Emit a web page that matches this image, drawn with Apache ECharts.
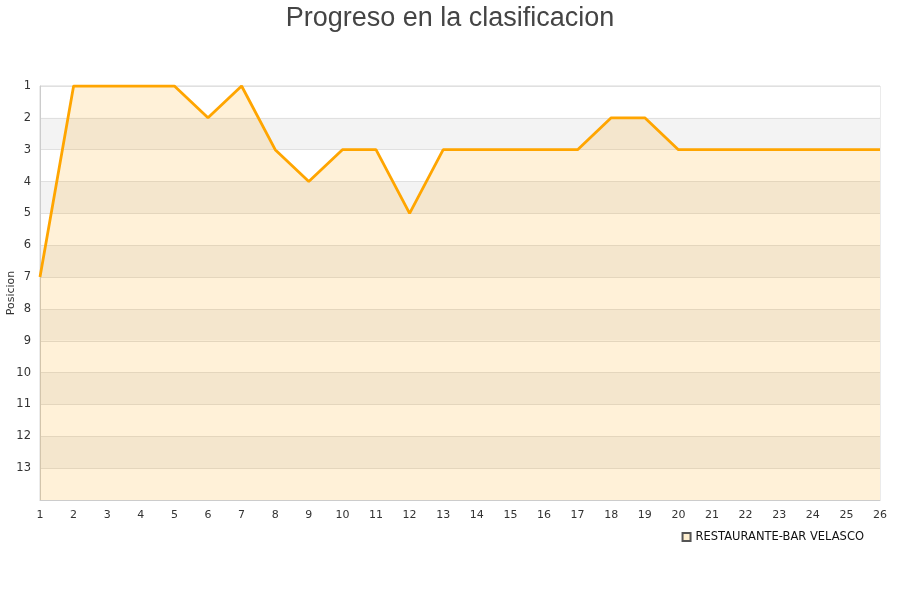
<!DOCTYPE html>
<html>
<head>
<meta charset="utf-8">
<script src="https://cdn.jsdelivr.net/npm/echarts@6/dist/echarts.min.js"></script>
<style>html,body{margin:0;padding:0;background:#fff}#c{width:900px;height:600px}</style>
</head>
<body>
<div id="c"></div>
<script>
var title = 'Progreso en la clasificacion';
var seriesName = 'RESTAURANTE-BAR VELASCO';
var jornadas = ['1','2','3','4','5','6','7','8','9','10','11','12','13','14','15','16','17','18','19','20','21','22','23','24','25','26'];
var posiciones = [7,1,1,1,1,2,1,3,4,3,3,5,3,3,3,3,3,2,2,3,3,3,3,3,3,3];
var yName = 'Posicion';

var chart = echarts.init(document.getElementById('c'));
chart.setOption({
  animation: false,
  title: {
    text: title, left: 'center', top: 0,
    textStyle: { fontFamily: 'Liberation Sans, Arial, sans-serif', fontSize: 27, fontWeight: 'normal', color: '#444' }
  },
  legend: {
    data: [{ name: seriesName, icon: 'rect' }],
    right: 31, top: 526, itemWidth: 8, itemHeight: 8, itemGap: 8,
    textStyle: { fontFamily: 'DejaVu Sans, sans-serif', fontSize: 11.5, color: '#111' }
  },
  grid: { left: 40, right: 20, top: 86, bottom: 100, containLabel: false, outerBoundsMode: 'none', show: true, borderColor: '#d8d8d8', borderWidth: 1 },
  xAxis: {
    type: 'category', data: jornadas, boundaryGap: false,
    axisLine: { lineStyle: { color: '#ccc' } },
    axisTick: { show: false },
    axisLabel: { color: '#333', fontFamily: 'DejaVu Sans, sans-serif', fontSize: 11, margin: 10, interval: 0 },
    splitLine: { show: false }
  },
  yAxis: {
    type: 'value', inverse: true, min: 1, max: 14, interval: 1,
    name: yName, nameLocation: 'middle', nameGap: 23, nameRotate: 90, nameMoveOverlap: false,
    nameTextStyle: { color: '#333', fontFamily: 'DejaVu Sans, sans-serif', fontSize: 11 },
    axisLine: { show: true, lineStyle: { color: '#ccc' } },
    axisTick: { show: false },
    axisLabel: {
      color: '#333', fontFamily: 'DejaVu Sans, sans-serif', fontSize: 11.5, margin: 9,
      formatter: function (v) { return v === 14 ? '' : String(v); }
    },
    splitLine: { show: true, lineStyle: { color: '#e0e0e0' } },
    splitArea: { show: true, areaStyle: { color: ['#ffffff', '#f3f3f3'] } }
  },
  series: [{
    name: seriesName, type: 'line', data: posiciones,
    symbol: 'none',
    lineStyle: { color: '#ffa500', width: 2.8 },
    itemStyle: { color: '#feefd0', borderColor: '#555', borderWidth: 1 },
    areaStyle: { color: 'rgba(255,165,0,0.22)', origin: 'end' }
  }]
});
</script>
</body>
</html>
